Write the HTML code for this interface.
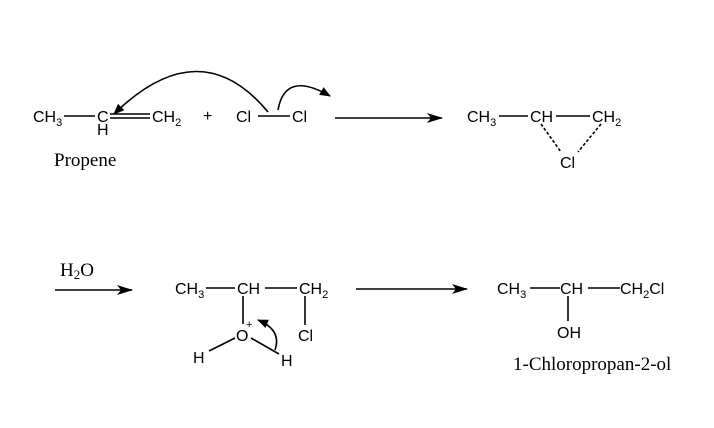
<!DOCTYPE html>
<html><head><style>body{margin:0;background:#fff}svg{display:block}
.s{font-family:"Liberation Sans",sans-serif;font-size:16px}
.r{font-family:"Liberation Serif",serif;font-size:19px}
.sub{font-size:11px}</style></head><body>
<svg width="714" height="428" viewBox="0 0 714 428" xmlns="http://www.w3.org/2000/svg">
<defs><marker id="a" markerWidth="11" markerHeight="9" refX="10" refY="4.5" orient="auto" markerUnits="userSpaceOnUse"><path d="M0,0 L11,4.5 L0,9 z" fill="#000"/></marker>
<marker id="b" markerWidth="16" markerHeight="10" refX="15" refY="5" orient="auto" markerUnits="userSpaceOnUse"><path d="M0,0 L16,5 L0,10 L4,5 z" fill="#000"/></marker></defs>
<g stroke="#000" stroke-width="1.6" fill="none">
<line x1="64" y1="116" x2="95" y2="116"/>
<line x1="110" y1="114" x2="150" y2="114"/><line x1="110" y1="118" x2="150" y2="118"/>
<line x1="258" y1="116" x2="290" y2="116"/>
<line x1="335" y1="118" x2="442" y2="118" marker-end="url(#b)"/>
<path d="M268,112 Q200,30 114,114" marker-end="url(#a)"/>
<path d="M278,110 Q285,70 330,96" marker-end="url(#a)"/>
<line x1="499" y1="116" x2="528" y2="116"/>
<line x1="556" y1="116" x2="590" y2="116"/>
<line x1="541" y1="124" x2="561" y2="152" stroke-dasharray="3,2"/>
<line x1="601" y1="124" x2="578" y2="152" stroke-dasharray="3,2"/>
<line x1="55" y1="290" x2="132" y2="290" marker-end="url(#b)"/>
<line x1="206" y1="288" x2="235" y2="288"/>
<line x1="265" y1="288" x2="297" y2="288"/>
<line x1="243" y1="296" x2="243" y2="324"/>
<line x1="305" y1="296" x2="305" y2="325"/>
<line x1="209" y1="351" x2="235" y2="338"/>
<line x1="251" y1="338" x2="279" y2="354"/>
<path d="M275,350 Q282,330 258,320" marker-end="url(#a)"/>
<line x1="356" y1="289" x2="467" y2="289" marker-end="url(#b)"/>
<line x1="530" y1="288" x2="560" y2="288"/>
<line x1="588" y1="288" x2="620" y2="288"/>
<line x1="568" y1="296" x2="568" y2="321"/>
</g>
<g class="s">
<text x="33" y="122">CH<tspan class="sub" dy="4">3</tspan></text>
<text x="97" y="122">C</text><text x="97" y="135">H</text>
<text x="152" y="122">CH<tspan class="sub" dy="4">2</tspan></text>
<text x="203" y="121">+</text>
<text x="236" y="122">Cl</text><text x="292" y="122">Cl</text>
<text x="467" y="122">CH<tspan class="sub" dy="4">3</tspan></text>
<text x="530" y="122">CH</text>
<text x="592" y="122">CH<tspan class="sub" dy="4">2</tspan></text>
<text x="560" y="168">Cl</text>
<text x="175" y="294">CH<tspan class="sub" dy="4">3</tspan></text>
<text x="237" y="294">CH</text>
<text x="299" y="294">CH<tspan class="sub" dy="4">2</tspan></text>
<text x="236" y="341">O</text><text x="246" y="328" class="sub">+</text>
<text x="298" y="341">Cl</text>
<text x="193" y="363">H</text><text x="281" y="366">H</text>
<text x="497" y="294">CH<tspan class="sub" dy="4">3</tspan></text>
<text x="560" y="294">CH</text>
<text x="620" y="294">CH<tspan class="sub" dy="4">2</tspan><tspan dy="-4">Cl</tspan></text>
<text x="557" y="338">OH</text>
</g>
<text class="r" x="54" y="166">Propene</text>
<text class="r" x="60" y="276">H<tspan font-size="13" dy="3">2</tspan><tspan dy="-3">O</tspan></text>
<text class="r" x="513" y="370">1-Chloropropan-2-ol</text>
</svg></body></html>
